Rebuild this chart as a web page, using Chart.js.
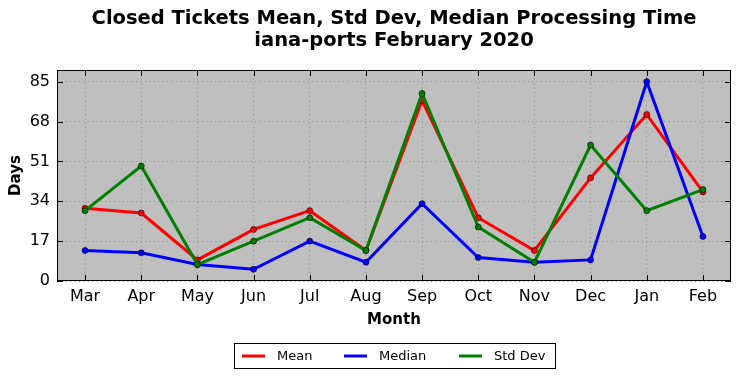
<!DOCTYPE html>
<html>
<head>
<meta charset="utf-8">
<script src="https://cdn.jsdelivr.net/npm/chart.js@4/dist/chart.umd.min.js"></script>
<style>
  html, body { margin: 0; padding: 0; background: #ffffff; }
  #wrap { width: 742px; height: 378px; position: relative; }
</style>
</head>
<body>
<div id="wrap"><canvas id="c" width="742" height="378"></canvas></div>
<script>
const months = ["Mar", "Apr", "May", "Jun", "Jul", "Aug", "Sep", "Oct", "Nov", "Dec", "Jan", "Feb"];
const meanDays   = [31, 29, 9, 22, 30, 13, 77, 27, 13, 44, 71, 38];
const medianDays = [13, 12, 7, 5, 17, 8, 33, 10, 8, 9, 85, 19];
const stdDevDays = [30, 49, 7, 17, 27, 13, 80, 23, 8, 58, 30, 39];
const yTicks = [0, 17, 34, 51, 68, 85];
const titleLines = ["Closed Tickets Mean, Std Dev, Median Processing Time", "iana-ports February 2020"];

const FONT = "'DejaVu Sans', sans-serif";

const plotBg = {
  id: 'plotBg',
  beforeDraw(chart) {
    const {ctx, chartArea: a} = chart;
    ctx.save();
    ctx.fillStyle = '#bfbfbf';
    ctx.fillRect(a.left, a.top, a.right - a.left, a.bottom - a.top);
    ctx.restore();
  },
  afterDraw(chart) {
    const {ctx, chartArea: a, scales} = chart;
    ctx.save();
    // title centred over the axes
    ctx.fillStyle = '#000';
    ctx.font = "bold 19.5px " + FONT;
    ctx.textAlign = 'center';
    ctx.textBaseline = 'middle';
    const cx = (a.left + a.right) / 2;
    titleLines.forEach((t, i) => ctx.fillText(t, cx, 19 + i * 22));

    // frame
    ctx.strokeStyle = '#000';
    ctx.lineWidth = 1;
    ctx.strokeRect(Math.round(a.left) + 0.5, Math.round(a.top) + 0.5,
                   Math.round(a.right - a.left) - 1, Math.round(a.bottom - a.top) - 1);
    // inward ticks
    const L = 6;
    ctx.beginPath();
    scales.x.ticks.forEach((t, i) => {
      const x = Math.round(scales.x.getPixelForTick(i)) + 0.5;
      ctx.moveTo(x, a.bottom); ctx.lineTo(x, a.bottom - L);
      ctx.moveTo(x, a.top); ctx.lineTo(x, a.top + L);
    });
    scales.y.ticks.forEach((t) => {
      const y = Math.round(scales.y.getPixelForValue(t.value)) + 0.5;
      ctx.moveTo(a.left, y); ctx.lineTo(a.left + L, y);
      ctx.moveTo(a.right, y); ctx.lineTo(a.right - L, y);
    });
    ctx.stroke();

    // legend (boxed, matplotlib style)
    const ds = chart.data.datasets;
    const bx = 234.5, by = 343.5, bw = 321, bh = 25;
    ctx.fillStyle = '#fff';
    ctx.fillRect(bx, by, bw, bh);
    ctx.strokeStyle = '#000';
    ctx.lineWidth = 1;
    ctx.strokeRect(bx, by, bw, bh);
    const starts = [242, 344, 459];
    ctx.font = "13px " + FONT;
    ctx.textBaseline = 'middle';
    ctx.textAlign = 'left';
    ds.forEach((d, i) => {
      const x0 = starts[i];
      const cy = by + bh / 2;
      ctx.strokeStyle = d.borderColor;
      ctx.lineWidth = 3;
      ctx.beginPath();
      ctx.moveTo(x0, cy); ctx.lineTo(x0 + 23, cy);
      ctx.stroke();
      ctx.fillStyle = '#000';
      ctx.fillText(d.label, x0 + 35, cy + 0.5);
    });
    ctx.restore();
  }
};

new Chart(document.getElementById('c'), {
  type: 'line',
  data: {
    labels: months,
    datasets: [
      { label: 'Mean', data: meanDays, borderColor: '#ff0000', backgroundColor: '#ff0000', order: 2 },
      { label: 'Median', data: medianDays, borderColor: '#0000ff', backgroundColor: '#0000ff', order: 1 },
      { label: 'Std Dev', data: stdDevDays, borderColor: '#008000', backgroundColor: '#008000', order: 0 }
    ].map(d => Object.assign(d, {
      borderWidth: 3,
      pointRadius: 3,
      pointBorderWidth: 0.6,
      pointBorderColor: '#000',
      pointBackgroundColor: d.borderColor,
      tension: 0,
      fill: false
    }))
  },
  options: {
    responsive: false,
    animation: false,
    devicePixelRatio: 1,
    layout: { padding: { left: 0, right: 11, top: 70, bottom: 40 } },
    plugins: {
      legend: { display: false },
      tooltip: { enabled: false },
      title: { display: false }
    },
    scales: {
      x: {
        type: 'category',
        offset: true,
        grid: { display: true, color: '#8c8c8c', lineWidth: 1, drawTicks: false, offset: false },
        border: { display: false, dash: [1, 3.4] },
        ticks: { color: '#000', font: { family: FONT, size: 16 }, padding: 6, maxRotation: 0, autoSkip: false },
        title: { display: true, text: 'Month', color: '#000', font: { family: FONT, size: 15, weight: 'bold' }, padding: { top: 0, bottom: 9 } },
        afterFit(s) { s.height = 57; }
      },
      y: {
        min: 0,
        max: 90,
        grid: { display: true, color: '#8c8c8c', lineWidth: 1, drawTicks: false },
        border: { display: false, dash: [1, 3.4] },
        ticks: { color: '#000', font: { family: FONT, size: 16 }, padding: 7 },
        afterBuildTicks(s) { s.ticks = yTicks.map(v => ({ value: v })); },
        title: { display: true, text: 'Days', color: '#000', font: { family: FONT, size: 15, weight: 'bold' }, padding: { top: 7, bottom: 0 } },
        afterFit(s) { s.width = 57; }
      }
    }
  },
  plugins: [plotBg]
});
</script>
</body>
</html>
